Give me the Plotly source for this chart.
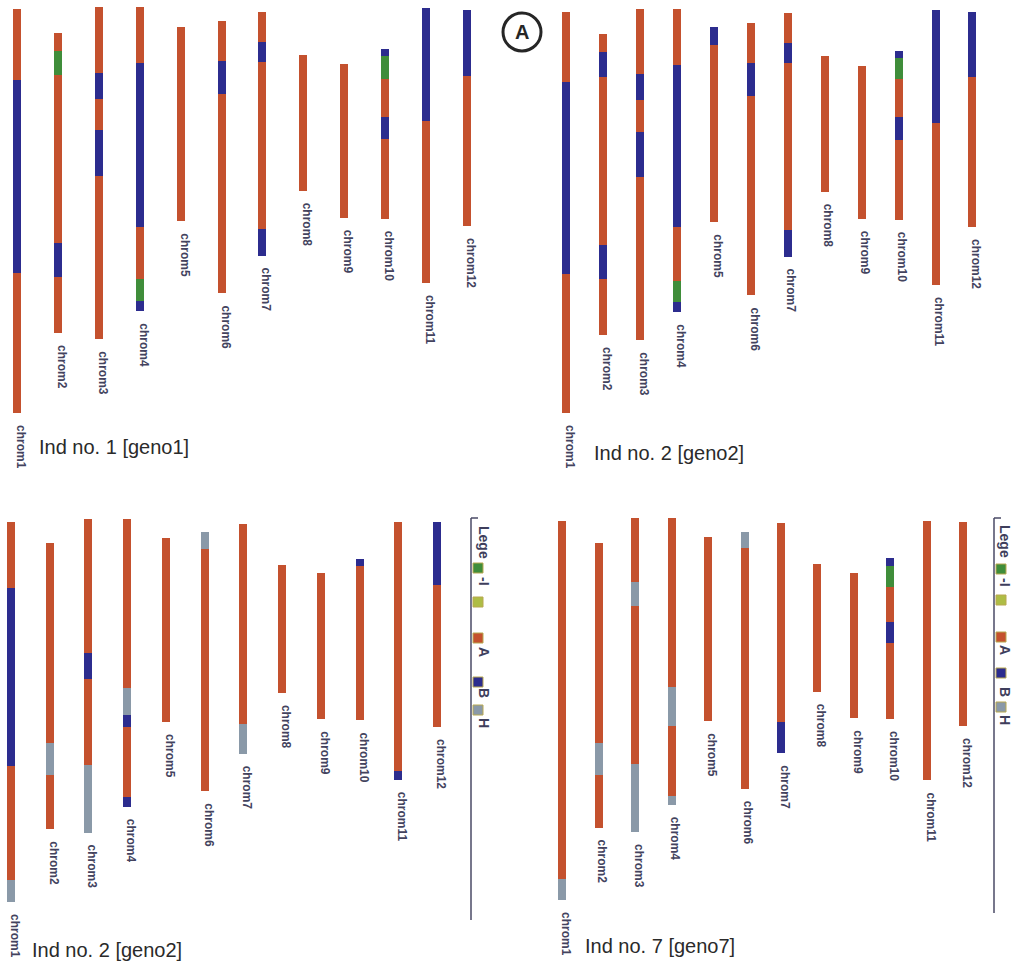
import plotly.graph_objects as go

W, H = 1014, 967

chrom_names = ["chrom1", "chrom2", "chrom3", "chrom4", "chrom5", "chrom6",
               "chrom7", "chrom8", "chrom9", "chrom10", "chrom11", "chrom12"]

# segment boundaries (position along chromosome, panel units) and genotype of each segment
p1_bounds = [[9, 80, 273, 413], [33, 51, 75, 243, 277, 333], [7, 73, 99, 130, 176, 339],
             [7, 63, 227, 279, 301, 311], [27, 221], [21, 61, 94, 293], [12, 42, 62, 229, 256],
             [55, 191], [64, 218], [49, 56, 79, 117, 139, 219], [8, 121, 283], [10, 76, 226]]
p1_geno = [["A", "B", "A"], ["A", "I", "A", "B", "A"], ["A", "B", "A", "B", "A"],
           ["A", "B", "A", "I", "B"], ["A"], ["A", "B", "A"], ["A", "B", "A", "B"],
           ["A"], ["A"], ["B", "I", "A", "B", "A"], ["B", "A"], ["B", "A"]]

p2_bounds = [[12, 82, 274, 413], [34, 52, 77, 245, 279, 335], [9, 74, 100, 132, 177, 340],
             [9, 65, 227, 281, 302, 312], [27, 45, 222], [23, 63, 96, 295], [13, 43, 63, 230, 257],
             [56, 192], [66, 219], [51, 58, 79, 117, 140, 220], [10, 123, 285], [12, 77, 227]]
p2_geno = [["A", "B", "A"], ["A", "B", "A", "B", "A"], ["A", "B", "A", "B", "A"],
           ["A", "B", "A", "I", "B"], ["B", "A"], ["A", "B", "A"], ["A", "B", "A", "B"],
           ["A"], ["A"], ["B", "I", "A", "B", "A"], ["B", "A"], ["B", "A"]]

p3_bounds = [[22, 88, 266, 380, 402], [43, 243, 275, 329], [19, 153, 179, 265, 333],
             [19, 188, 215, 227, 297, 307], [38, 222], [32, 49, 291], [24, 224, 254],
             [65, 193], [73, 219], [59, 66, 220], [22, 271, 280], [22, 85, 227]]
p3_geno = [["A", "B", "A", "H"], ["A", "H", "A"], ["A", "B", "A", "H"],
           ["A", "H", "B", "A", "B"], ["A"], ["H", "A"], ["A", "H"],
           ["A"], ["A"], ["B", "A"], ["A", "B"], ["B", "A"]]

p4_bounds = [[21, 379, 400], [43, 243, 275, 328], [18, 82, 106, 264, 332],
             [18, 187, 226, 296, 305], [37, 221], [32, 48, 289], [23, 222, 253],
             [64, 192], [73, 218], [58, 66, 87, 122, 143, 219], [21, 280], [22, 226]]
p4_geno = [["A", "H"], ["A", "H", "A"], ["A", "H", "A", "H"],
           ["A", "H", "A", "H"], ["A"], ["H", "A"], ["A", "B"],
           ["A"], ["A"], ["B", "I", "A", "B", "A"], ["A"], ["A"]]

panel_titles = ["Ind no. 1 [geno1]", "Ind no. 2 [geno2]", "Ind no. 2 [geno2]", "Ind no. 7 [geno7]"]

geno_colors = {"A": "#c4512e", "B": "#2c2c8e", "I": "#3f8d3a", "H": "#8a99a8"}
legend_items = [("I", "#3f8d3a", "-I"), ("-", "#aebd45", ""), ("A", "#c4512e", "A"),
                ("B", "#2c2c8e", "B"), ("H", "#8a99a8", "H")]

# panel layout (pixels): first chrom x, last chrom x, top px, bottom px
panels = [
    dict(bounds=p1_bounds, geno=p1_geno, x0=17, x1=467, top=0, bot=480, title_xy=(37, 447)),
    dict(bounds=p2_bounds, geno=p2_geno, x0=566, x1=972, top=0, bot=480, title_xy=(592, 453)),
    dict(bounds=p3_bounds, geno=p3_geno, x0=11, x1=437, top=500, bot=967, title_xy=(30, 950)),
    dict(bounds=p4_bounds, geno=p4_geno, x0=562, x1=963, top=500, bot=967, title_xy=(583, 946)),
]

fig = go.Figure()
annotations = []
shapes = []
BAR_PX = 8

for k, p in enumerate(panels):
    n = len(chrom_names)
    dx = (p["x1"] - p["x0"]) / (n - 1)
    left = max(0.0, p["x0"] - 0.5 * dx)
    right = min(W, p["x1"] + 0.5 * dx)
    rlo = -(p["x0"] - left) / dx
    rhi = (n - 1) + (right - p["x1"]) / dx
    xa = "xaxis" if k == 0 else f"xaxis{k+1}"
    ya = "yaxis" if k == 0 else f"yaxis{k+1}"
    xr = "x" if k == 0 else f"x{k+1}"
    yr = "y" if k == 0 else f"y{k+1}"
    span = p["bot"] - p["top"]
    fig.update_layout(**{
        xa: dict(domain=[left / W, right / W], range=[rlo, rhi], visible=False,
                 anchor=yr, fixedrange=True),
        ya: dict(domain=[1 - p["bot"] / H, 1 - p["top"] / H], range=[span, 0],
                 visible=False, anchor=xr, fixedrange=True),
    })
    for g, col in geno_colors.items():
        xs, bases, lens = [], [], []
        for i, (bd, gs) in enumerate(zip(p["bounds"], p["geno"])):
            for j, gg in enumerate(gs):
                if gg == g:
                    xs.append(i)
                    bases.append(bd[j])
                    lens.append(bd[j + 1] - bd[j])
        if xs:
            fig.add_trace(go.Bar(x=xs, y=lens, base=bases, width=BAR_PX / dx,
                                 marker=dict(color=col, line=dict(width=0)),
                                 xaxis=xr, yaxis=yr, showlegend=False, hoverinfo="skip"))
    for i, bd in enumerate(p["bounds"]):
        annotations.append(dict(x=i, y=bd[-1], xref=xr, yref=yr, text="<b>" + chrom_names[i] + "</b>",
                                textangle=90, showarrow=False, xanchor="center", yanchor="top",
                                yshift=-10, xshift=4,
                                font=dict(family="Arial", size=12, color="#43435e")))
    tx, ty = p["title_xy"]
    annotations.append(dict(x=tx / W, y=1 - ty / H, xref="paper", yref="paper",
                            text=panel_titles[k], showarrow=False, xanchor="left",
                            yanchor="middle", font=dict(family="Arial", size=20, color="#2a2a2a")))

# legends for the bottom panels
legend_specs = [
    dict(line_x=471, y0=518, y1=920, sq_x=478, txt_x=484,
         lege_y=542, sq_y=[568, 602, 638, 682, 710], lab_y=[581, None, 652, 693, 723]),
    dict(line_x=994, y0=518, y1=913, sq_x=1001, txt_x=1005,
         lege_y=541, sq_y=[569, 600, 637, 673, 707], lab_y=[582, None, 650, 692, 720]),
]
for L in legend_specs:
    shapes.append(dict(type="line", xref="paper", yref="paper",
                       x0=L["line_x"] / W, x1=L["line_x"] / W,
                       y0=1 - L["y0"] / H, y1=1 - L["y1"] / H,
                       line=dict(color="#4a4a66", width=1.5)))
    shapes.append(dict(type="line", xref="paper", yref="paper",
                       x0=L["line_x"] / W, x1=(L["line_x"] + 7) / W,
                       y0=1 - L["y0"] / H, y1=1 - L["y0"] / H,
                       line=dict(color="#4a4a66", width=1.5)))
    annotations.append(dict(x=L["txt_x"] / W, y=1 - L["lege_y"] / H, xref="paper", yref="paper",
                            text="<b>Lege</b>", textangle=90, showarrow=False,
                            xanchor="center", yanchor="middle",
                            font=dict(family="Arial", size=14, color="#3e3e5c")))
    for (code, col, lab), sy, ly in zip(legend_items, L["sq_y"], L["lab_y"]):
        shapes.append(dict(type="rect", xref="paper", yref="paper",
                           x0=(L["sq_x"] - 5) / W, x1=(L["sq_x"] + 5) / W,
                           y0=1 - (sy + 5) / H, y1=1 - (sy - 5) / H,
                           fillcolor=col, line=dict(color="#b8a850", width=1)))
        if lab and ly:
            annotations.append(dict(x=L["txt_x"] / W, y=1 - ly / H, xref="paper", yref="paper",
                                    text="<b>" + lab + "</b>", textangle=90, showarrow=False,
                                    xanchor="center", yanchor="middle",
                                    font=dict(family="Arial", size=14, color="#3e3e5c")))

# circled panel marker
cx, cy, r = 522, 32, 19
shapes.append(dict(type="circle", xref="paper", yref="paper",
                   x0=(cx - r) / W, x1=(cx + r) / W, y0=1 - (cy + r) / H, y1=1 - (cy - r) / H,
                   line=dict(color="#262626", width=3)))
annotations.append(dict(x=cx / W, y=1 - cy / H, xref="paper", yref="paper", text="<b>A</b>",
                        showarrow=False, xanchor="center", yanchor="middle",
                        font=dict(family="Arial", size=20, color="#262626")))

fig.update_layout(width=W, height=H, margin=dict(l=0, r=0, t=0, b=0),
                  paper_bgcolor="#ffffff", plot_bgcolor="rgba(0,0,0,0)",
                  barmode="overlay", bargap=0, showlegend=False,
                  annotations=annotations, shapes=shapes)

fig.write_html("out.html", config={"displayModeBar": False},
               post_script="document.body.style.margin='0';document.body.style.overflow='hidden';")
